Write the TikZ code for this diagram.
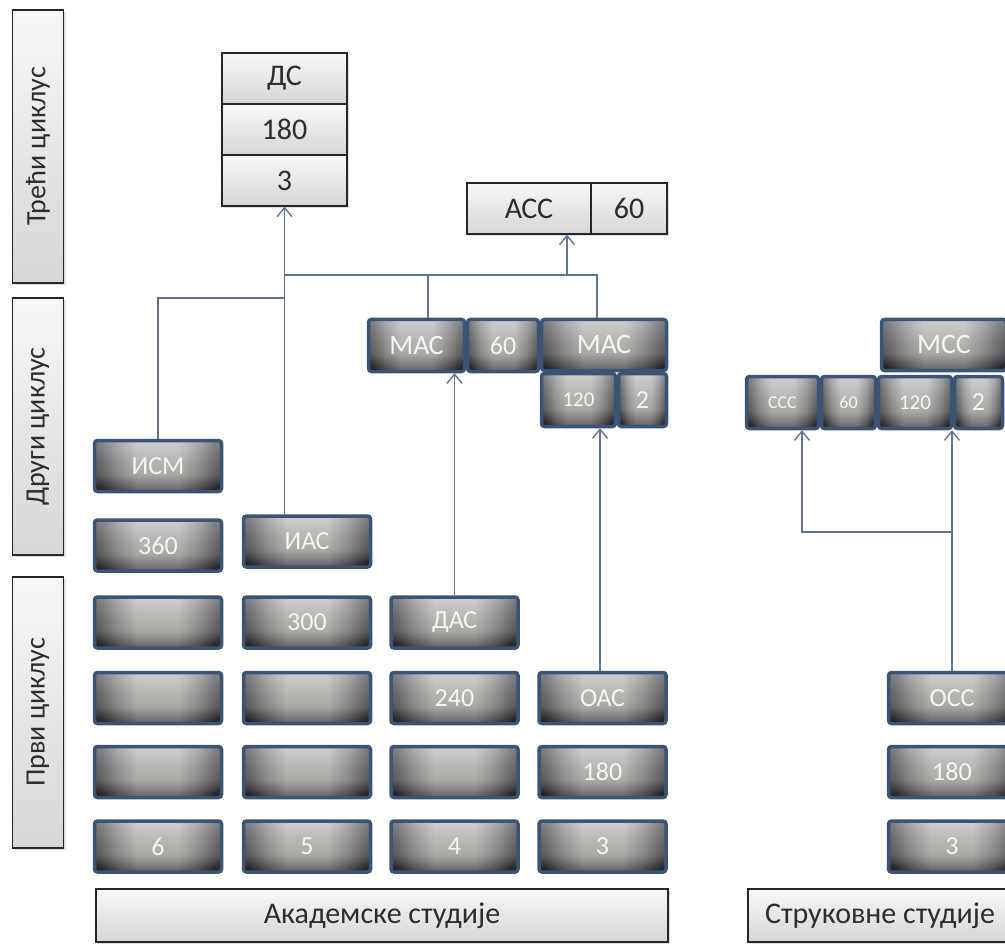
\documentclass[tikz,border=0pt]{standalone}
\usepackage{fontspec}
\setmainfont{Carlito}
\usetikzlibrary{arrows.meta,calc,shadows}
\definecolor{frame}{RGB}{60,84,116}
\definecolor{link}{RGB}{96,116,144}
\definecolor{glow}{RGB}{184,182,178}
\definecolor{hilite}{RGB}{226,232,240}
\definecolor{deep}{RGB}{14,15,21}
\definecolor{inkgray}{RGB}{45,45,45}
% sides dark, middle light
\pgfdeclarehorizontalshading{cellh}{100bp}{%
  color(0bp)=(deep); color(25bp)=(deep); color(28bp)=(deep!85!glow);
  color(34bp)=(deep!40!glow); color(42bp)=(glow); color(58bp)=(glow);
  color(66bp)=(deep!40!glow); color(72bp)=(deep!85!glow); color(75bp)=(deep);
  color(100bp)=(deep)}
% top light, bottom dark (laid over the first one)
\pgfdeclareverticalshading{cellv}{100bp}{%
  color(0bp)=(deep); color(25bp)=(deep); color(31bp)=(deep!70!glow);
  color(42bp)=(glow!85!deep); color(55bp)=(glow); color(69bp)=(hilite!70!glow);
  color(75bp)=(hilite); color(100bp)=(hilite)}
\tikzset{
  % ---- light label boxes ------------------------------------------------
  tag/.style={draw=black!85, line width=1.3pt, top color=gray!6, bottom color=gray!32,
    text=inkgray, font=\fontsize{30}{34}\selectfont, inner sep=0pt,
    minimum height=51pt,
    drop shadow={opacity=0.25, shadow xshift=2pt, shadow yshift=-2pt}},
  cyc/.style={tag, rotate=90, minimum height=51pt, font=\fontsize{28}{32}\selectfont},
  % ---- dark credit boxes ------------------------------------------------
  cell/.style={draw=frame, line width=3.5pt, rounded corners=3pt,
    shading=cellh, text=white!92!gray,
    path picture={
      \shade[shading=cellv, opacity=0.5] (path picture bounding box.south west)
        rectangle (path picture bounding box.north east);},
    font=\fontsize{26}{30}\selectfont, inner sep=0pt,
    minimum width=127pt, minimum height=51pt},
  cellmid/.style={cell, font=\fontsize{21}{24}\selectfont},
  celltiny/.style={cell, font=\fontsize{18}{21}\selectfont},
  % ---- connectors -------------------------------------------------------
  ln/.style={draw=link, line width=1.4pt},
  ar/.style={ln, -{Straight Barb[length=9pt,width=15pt]}},
}

\begin{document}
\begin{tikzpicture}[x=1pt,y=-1pt]
\useasboundingbox (0,0) rectangle (1005,944);
\clip (0,0) rectangle (1005,944);

% ============================ cycle bars ==================================
\node[cyc, minimum width=273pt] (cyc3) at (38,146.5) {Трећи циклус};
\node[cyc, minimum width=257pt] (cyc2) at (38,426.5) {Други циклус};
\node[cyc, minimum width=271pt] (cyc1) at (38,712.5) {Први циклус};

% ============================ third cycle =================================
\node[tag, minimum width=125pt] (ds)     at (284.5,78.5)  {ДС};
\node[tag, minimum width=125pt] (dsects) at (284.5,129.5) {180};
\node[tag, minimum width=125pt] (dsyrs)  at (284.5,180.5) {3};
\node[tag, minimum width=124pt] (acc)    at (529,208.5)   {АСС};
\node[tag, minimum width=76pt]  (acc60)  at (629,208.5)   {60};

% ============================ second cycle ================================
\node[cell, minimum width=96pt, minimum height=52pt, font=\fontsize{28}{32}\selectfont] (mas1) at (416.5,345.5) {МАС};
\node[cell, minimum width=71pt, minimum height=52pt] (mas60) at (503,345.5) {60};
\node[cell, minimum width=125pt, font=\fontsize{28}{32}\selectfont] (mas2) at (604,345) {МАС};
\node[cellmid, minimum width=74pt, minimum height=53pt] (mas120) at (578.5,400) {120};
\node[cell,    minimum width=48pt, minimum height=53pt] (mas2y)  at (642.5,400) {2};

\node[cell, minimum width=125pt, font=\fontsize{28}{32}\selectfont] (mcc) at (944,345) {МСС};
\node[celltiny, minimum width=72pt, minimum height=52pt] (ccc)    at (782.5,402.5) {ССС};
\node[celltiny, minimum width=54pt, minimum height=52pt] (ccc60)  at (848.5,402.5) {60};
\node[cellmid,  minimum width=73pt, minimum height=52pt] (mcc120) at (915,402.5)   {120};
\node[cell,     minimum width=48pt, minimum height=52pt] (mcc2)   at (978.5,402.5) {2};

% ============================ first cycle =================================
\node[cell] (ism)  at (158,466)     {ИСМ};
\node[cell] (a360) at (158,545.5)   {360};
\node[cell] (ias)  at (307,541.5)   {ИАС};
\node[cell] (a300) at (307,622.5)   {300};
\node[cell] (das)  at (454.5,622.5) {ДАС};
\node[cell] (a240) at (454.5,698)   {240};
\node[cell] (oac)  at (602.5,698)   {ОАС};
\node[cell] (a180) at (602.5,772)   {180};
\foreach \x/\y [count=\i] in {158/622.5,158/698,158/772,307/698,307/772,454.5/772}
  \node[cell] (blank\i) at (\x,\y) {};
\foreach \x/\n in {158/6,307/5,454.5/4,602.5/3}
  \node[cell] (yrs\n) at (\x,846.5) {\n};

\node[cell] (occ)  at (952,698)   {ОСС};
\node[cell] (s180) at (952,772)   {180};
\node[cell] (s3)   at (952,846.5) {3};

% ============================ study types =================================
\node[tag, minimum width=572pt, minimum height=53pt] (akad)  at (382,915.5) {Академске студије};
\node[tag, minimum width=264pt, minimum height=53pt] (struk) at (880,915.5) {Струковне студије};

% ============================ connectors ==================================
\coordinate (jism) at (284.5,298);
\coordinate (jmas) at (284.5,275);
\coordinate (accmid) at ($(acc.south west)!0.5!(acc60.south east)$);
\coordinate (jocc) at (952,532);

\draw[ar] (dsyrs.south |- ias.north) -- (dsyrs.south);
\draw[ln] (ism.north) |- (jism);
\draw[ln] (jmas) -| ([xshift=-7pt]mas2.north);
\draw[ln] ([xshift=11.5pt]mas1.north) -- ([xshift=11.5pt]mas1.north |- jmas);
\draw[ar] (accmid |- jmas) -- (accmid);
\draw[ar] (das.north) -- (das.north |- mas1.south);
\draw[ar] ([xshift=-2.5pt]oac.north) -- ([xshift=-2.5pt]oac.north |- mas120.south);

\draw[ar] (occ.north) -- (occ.north |- mcc120.south);
\draw[ar] (jocc) -| ([xshift=19.5pt]ccc.south);

\end{tikzpicture}
\end{document}
